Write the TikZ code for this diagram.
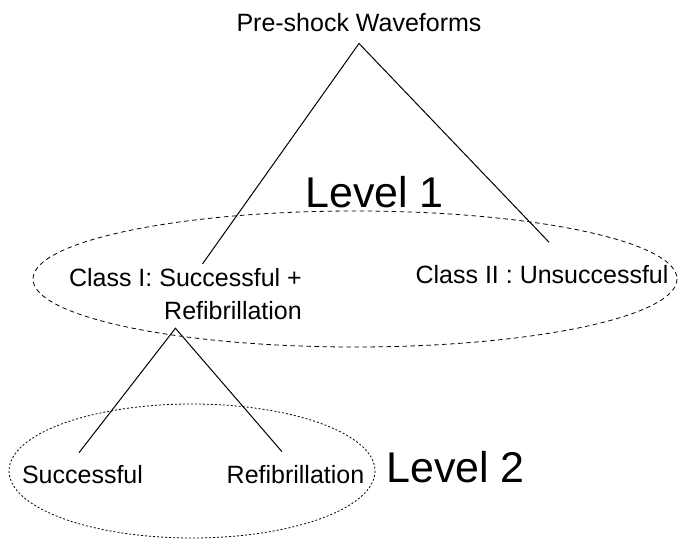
\documentclass[tikz,border=0pt]{standalone}
\usepackage{fontspec}
\setmainfont{Liberation Sans}
\begin{document}
\begin{tikzpicture}[x=1pt, y=-1pt,
    every node/.style={font=\fontsize{25}{33}\selectfont, inner sep=0pt},
    levellabel/.style={font=\fontsize{43}{50}\selectfont},
    branch/.style={line width=1pt},
    bigring/.style={line width=0.8pt, dash pattern=on 4.5pt off 3.5pt},
    smallring/.style={line width=0.8pt, dash pattern=on 2pt off 2pt}]
    \useasboundingbox (0,0) rectangle (680,541);

    % Niveaux
    \draw[bigring] (355,279) ellipse [x radius=322, y radius=68];
    \draw[smallring] (192,471) ellipse [x radius=183, y radius=67];

    % Classes
    \node[anchor=base] (waveforms) at (359,31) {Pre-shock Waveforms};
    \node[anchor=north east, align=right] (classone) at (302,268.5) {Class I: Successful +\\Refibrillation};
    \node[anchor=base] (classtwo) at (542,283.5) {Class II : Unsuccessful};
    \node[anchor=base] (success) at (82.5,483) {Successful};
    \node[anchor=base] (refib) at (295.5,483) {Refibrillation};

    \node[levellabel, anchor=base west] (levelone) at (305,207) {Level 1};
    \node[levellabel, anchor=base west] (leveltwo) at (386,482) {Level 2};

    % Branches
    \draw[branch] ([xshift=17pt,yshift=4.5pt]classone.north) -- ([yshift=-12pt]waveforms.south) -- ([xshift=7pt,yshift=23pt]classtwo.north);
    \draw[branch] ([xshift=-3.5pt,yshift=12pt]success.north) -- ([xshift=-10pt,yshift=-8pt]classone.south) -- ([xshift=-13.5pt,yshift=13pt]refib.north);
\end{tikzpicture}
\end{document}
